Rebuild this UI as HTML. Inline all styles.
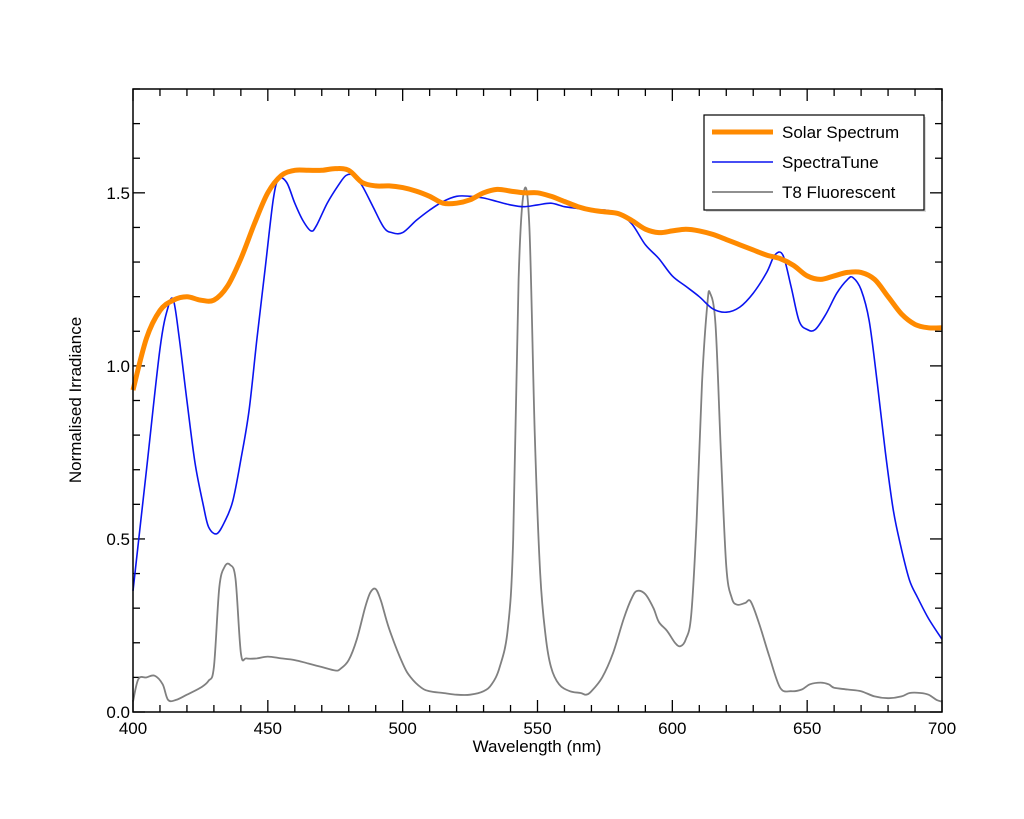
<!DOCTYPE html>
<html><head><meta charset="utf-8"><style>
body{margin:0;background:#fff}
svg{display:block;font-family:"Liberation Sans",Arial,sans-serif}
</style></head><body>
<svg id="c" width="1024" height="819" viewBox="0 0 1024 819" xmlns="http://www.w3.org/2000/svg"></svg>
<script>
const solarX=[400,405,410,415,420,425,430,435,440,445,450,455,460,465,470,475,480,485,490,495,500,505,510,515,520,525,530,535,540,545,550,555,560,565,570,575,580,585,590,595,600,605,610,615,620,625,630,635,640,645,650,655,660,665,670,675,680,685,690,695,700];
const solarY=[0.93,1.08,1.16,1.19,1.20,1.19,1.19,1.23,1.31,1.41,1.50,1.55,1.565,1.565,1.565,1.57,1.565,1.53,1.52,1.52,1.515,1.505,1.49,1.47,1.47,1.48,1.50,1.51,1.505,1.50,1.50,1.49,1.475,1.46,1.45,1.445,1.44,1.42,1.395,1.385,1.39,1.395,1.39,1.38,1.365,1.35,1.335,1.32,1.31,1.29,1.26,1.25,1.26,1.27,1.27,1.25,1.2,1.15,1.12,1.11,1.11];
const tuneX=[400,405,410,413,415,417,420,423,426,428,431,434,437,440,443,446,449,452,454,457,460,463,466,468,472,476,479,482,485,489,493,496,500,505,510,515,520,525,530,535,540,545,550,555,560,565,570,575,580,585,590,595,600,605,610,615,620,625,630,635,638,641,644,647,650,653,657,661,665,667,670,673,676,679,682,685,688,691,695,700];
const tuneY=[0.35,0.70,1.05,1.17,1.19,1.09,0.90,0.72,0.60,0.535,0.515,0.55,0.61,0.73,0.87,1.08,1.28,1.48,1.54,1.53,1.47,1.42,1.39,1.405,1.47,1.52,1.55,1.55,1.52,1.46,1.40,1.385,1.385,1.42,1.45,1.475,1.49,1.49,1.485,1.475,1.465,1.46,1.465,1.47,1.46,1.455,1.45,1.45,1.44,1.41,1.35,1.31,1.26,1.23,1.20,1.165,1.155,1.17,1.21,1.27,1.32,1.32,1.23,1.13,1.105,1.105,1.15,1.21,1.25,1.255,1.22,1.13,0.95,0.75,0.58,0.47,0.38,0.33,0.27,0.21];
const fluoX=[400,402,405,408,411,413,416,420,425,428,430,432,434,436,438,440,442,446,450,455,460,465,470,475,477,480,483,486,488,490,492,495,500,503,507,510,515,520,525,530,533,536,539,541,543,545,547,549,551,553,555,558,562,566,568,570,574,578,582,585,587,590,593,595,598,601,603,605,607,609,611,613,614,616,618,620,622,624,627,629,632,636,640,644,648,651,655,658,660,665,670,675,680,685,688,692,695,698,700];
const fluoY=[0.03,0.095,0.10,0.105,0.08,0.035,0.035,0.05,0.07,0.09,0.13,0.36,0.42,0.425,0.385,0.17,0.155,0.155,0.16,0.155,0.15,0.14,0.13,0.12,0.125,0.15,0.21,0.30,0.345,0.355,0.32,0.24,0.14,0.10,0.07,0.06,0.055,0.05,0.05,0.06,0.08,0.13,0.24,0.50,1.25,1.505,1.40,0.80,0.40,0.22,0.13,0.08,0.06,0.055,0.05,0.06,0.10,0.17,0.27,0.33,0.35,0.34,0.30,0.26,0.235,0.20,0.19,0.21,0.28,0.55,0.95,1.18,1.21,1.12,0.75,0.42,0.33,0.31,0.315,0.32,0.26,0.16,0.07,0.06,0.065,0.08,0.085,0.08,0.07,0.065,0.06,0.045,0.04,0.045,0.055,0.055,0.05,0.035,0.03];
const xTicks=[400,450,500,550,600,650,700];
const yTicks=["0.0","0.5","1.0","1.5"];

const L=133,R=942,T=89,B=712,X0=400,X1=700,Y0=0,Y1=1.8;
const sx=v=>L+(v-X0)/(X1-X0)*(R-L);
const sy=v=>B-(v-Y0)/(Y1-Y0)*(B-T);
const svg=document.getElementById('c');
const NS='http://www.w3.org/2000/svg';
function mk(tag,attrs,parent){const e=document.createElementNS(NS,tag);for(const k in attrs)e.setAttribute(k,attrs[k]);(parent||svg).appendChild(e);return e;}

let g=mk('g',{});


for(let v=400;v<=700;v+=10){const big=v%50===0;const len=big?12:7;const x=sx(v);
 mk('line',{x1:x,y1:B,x2:x,y2:B-len,stroke:'#000','stroke-width':1.3},g);
 mk('line',{x1:x,y1:T,x2:x,y2:T+len,stroke:'#000','stroke-width':1.3},g);}
for(let i=0;i<=18;i++){const v=i/10;const big=i%5===0;const len=big?12:7;const y=sy(v);
 mk('line',{x1:L,y1:y,x2:L+len,y2:y,stroke:'#000','stroke-width':1.3},g);
 mk('line',{x1:R,y1:y,x2:R-len,y2:y,stroke:'#000','stroke-width':1.3},g);}

function series(xs,ys,color,w,name){
 const P=xs.map((x,i)=>[sx(x),sy(ys[i])]);
 let d='M'+P[0][0].toFixed(1)+','+P[0][1].toFixed(1);
 for(let i=0;i<P.length-1;i++){const p0=P[i-1]||P[i],p1=P[i],p2=P[i+1],p3=P[i+2]||p2;
  const c1=[p1[0]+(p2[0]-p0[0])/6,p1[1]+(p2[1]-p0[1])/6],c2=[p2[0]-(p3[0]-p1[0])/6,p2[1]-(p3[1]-p1[1])/6];
  d+='C'+c1.map(n=>n.toFixed(1)).join(',')+' '+c2.map(n=>n.toFixed(1)).join(',')+' '+p2[0].toFixed(1)+','+p2[1].toFixed(1);}
 const p=mk('path',{d:d,fill:'none',stroke:color,'stroke-width':w,'stroke-linejoin':'round'});
 
 }
series(fluoX,fluoY,'#808080',1.8,'t8-fluorescent-line');
series(tuneX,tuneY,'#0a14f0',1.6,'spectratune-line');
series(solarX,solarY,'#ff8a00',5,'solar-spectrum-line');

const frame=mk('rect',{x:L,y:T,width:R-L,height:B-T,fill:'none',stroke:'#000','stroke-width':1.5});



xTicks.forEach(v=>{const t=mk('text',{x:sx(v),y:B+22,'font-size':17,'text-anchor':'middle'});t.textContent=v;
 
 });
yTicks.forEach(s=>{const t=mk('text',{x:L-3,y:sy(parseFloat(s))+6,'font-size':17,'text-anchor':'end'});t.textContent=s;
 
 });

let xt=mk('text',{x:537,y:752,'font-size':17,'text-anchor':'middle'});xt.textContent='Wavelength (nm)';


let yt=mk('text',{x:0,y:0,'font-size':17,'text-anchor':'middle',transform:'translate(81,400) rotate(-90)'});yt.textContent='Normalised Irradiance';



const lg=mk('g',{});


mk('rect',{x:706,y:117,width:220,height:95,fill:'#999',opacity:0.35},lg);
mk('rect',{x:704,y:115,width:220,height:95,fill:'#fff',stroke:'#000','stroke-width':1.2},lg);
const items=[['Solar Spectrum','#ff8a00',5],['SpectraTune','#0a14f0',1.6],['T8 Fluorescent','#808080',1.8]];
items.forEach((it,i)=>{const y=132+i*30;
 const e=mk('g',{},lg);
 
 
 mk('line',{x1:712,y1:y,x2:773,y2:y,stroke:it[1],'stroke-width':it[2]},e);
 const t=mk('text',{x:782,y:y+6,'font-size':17},e);t.textContent=it[0];});
</script>
</body></html>
